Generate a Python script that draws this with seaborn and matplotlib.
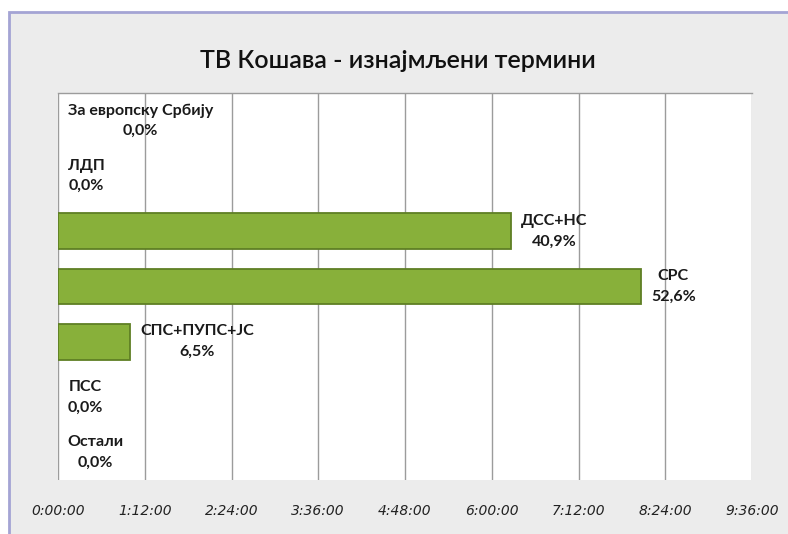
import matplotlib
matplotlib.use("Agg")
import matplotlib.pyplot as plt
import matplotlib.patches as mpatches
import numpy as np
import pandas as pd
import seaborn as sns

# Data
parties = ["За европску Србију", "ЛДП", "ДСС+НС", "СРС", "СПС+ПУПС+ЈС", "ПСС", "Остали"]
durations = ["0:00:00", "0:00:00", "6:16:00", "8:04:00", "1:00:00", "0:00:00", "0:00:00"]
shares = [0.0, 0.0, 40.9, 52.6, 6.5, 0.0, 0.0]
tick_hours = [0, 1.2, 2.4, 3.6, 4.8, 6.0, 7.2, 8.4, 9.6]
title = "ТВ Кошава - изнајмљени термини"

df = pd.DataFrame({"party": parties, "duration": durations, "share": shares})
df["hours"] = pd.to_timedelta(df["duration"]).dt.total_seconds() / 3600

sns.set_theme(style="white")
plt.rcParams["font.family"] = ["Lato", "DejaVu Sans"]

fig = plt.figure(figsize=(7.88, 5.34), dpi=100)
fig.patch.set_facecolor("white")

# chart area frame
fig.patches.append(mpatches.Rectangle(
    (9 / 788, -0.01), 1.0, 1 - 12 / 534 + 0.01, transform=fig.transFigure,
    facecolor="#ececec", edgecolor="#a4a4d4", linewidth=2.0, zorder=-10))

ax = fig.add_axes([58 / 788, 54 / 534, 694 / 788, 387 / 534])
ax.set_zorder(1)
ax.set_facecolor("white")

sns.barplot(data=df, x="hours", y="party", orient="h", color="#88b03a",
            width=0.65, edgecolor="#5f7f24", linewidth=1.3, saturation=1,
            ax=ax, zorder=3)
# no outline on empty bars
for p in ax.patches:
    if p.get_width() == 0:
        p.set_linewidth(0)


def hms(v):
    secs = int(round(v * 3600))
    return f"{secs // 3600}:{(secs % 3600) // 60:02d}:{secs % 60:02d}"


ax.set_xlim(0, 9.6)
ax.set_xticks(tick_hours)
ax.set_xticklabels([hms(t) for t in tick_hours])
ax.grid(axis="x", color="#9c9c9c", linewidth=1.0, zorder=0)
ax.set_axisbelow(True)
ax.set_yticks([])
ax.set_xlabel("")
ax.set_ylabel("")
for side in ["left", "right", "bottom"]:
    ax.spines[side].set_visible(False)
ax.spines["top"].set_color("#9c9c9c")
ax.spines["top"].set_linewidth(1.0)
ax.tick_params(axis="x", length=0, pad=17, labelsize=10, colors="#222222")
plt.setp(ax.get_xticklabels(), fontstyle="oblique", fontfamily="DejaVu Sans")

# data labels: name + share, just past the bar end
for i, row in df.iterrows():
    txt = f"{row['party']}\n{row['share']:.1f}%".replace(".", ",")
    ax.annotate(txt, xy=(row["hours"], i), xytext=(7, 0), textcoords="offset points",
                ha="left", va="center", multialignment="center",
                fontsize=11.5, fontweight="bold", color="#1a1a1a",
                linespacing=1.6, zorder=5)

fig.text(0.505, 1 - 60 / 534, title, ha="center", va="center",
         fontsize=18, fontweight="semibold", color="#111111")

fig.savefig("out.png", dpi=100)
